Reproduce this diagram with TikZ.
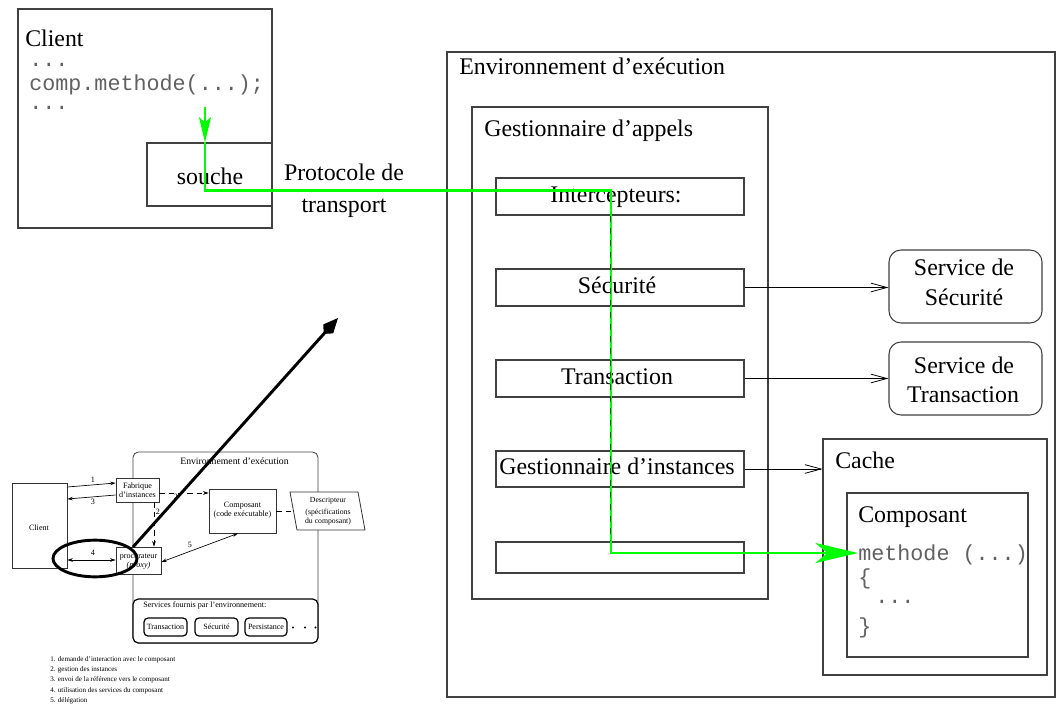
\documentclass[tikz,border=0pt]{standalone}
\usepackage{fontspec}
\setmainfont{Liberation Serif}
\setmonofont{Liberation Mono}
\usetikzlibrary{arrows.meta,fit,shapes.geometric}
\definecolor{greenline}{RGB}{0,255,0}
\definecolor{dkgreen}{RGB}{0,95,0}
\begin{document}
\begin{tikzpicture}[x=0.75pt,y=-0.75pt,
  box/.style={draw=black!75, line width=0.8pt, inner sep=0pt, fill=white},
  big/.style={font=\fontsize{17.9}{21}\selectfont, inner sep=0pt},
  mono/.style={font=\fontsize{16.3}{19}\selectfont\ttfamily, text=black!62, inner sep=0pt},
  svc/.style={box, rounded corners=9pt},
  openarr/.style={draw=black, line width=0.6pt, -{Straight Barb[length=12pt,width=6.5pt]}},
  gline/.style={draw=greenline, line width=1.6pt},
  sbox/.style={draw=black!80, line width=0.6pt, inner sep=0pt, fill=white},
  sfont/.style={font=\fontsize{6.1}{6.8}\selectfont, inner sep=0pt, align=center},
  lfont/.style={font=\fontsize{5.3}{6}\selectfont, inner sep=0pt, anchor=base west},
  sarr/.style={draw=black, line width=0.5pt, -{Stealth[length=4pt,width=2.6pt]}},
  sdarr/.style={draw=black, line width=0.5pt, {Stealth[length=4pt,width=2.6pt]}-{Stealth[length=4pt,width=2.6pt]}},
  sdash/.style={draw=black, line width=0.5pt, dash pattern=on 4pt off 3pt},
  pill/.style={draw=black, line width=0.9pt, rounded corners=3pt, inner sep=0pt, fill=white, font=\fontsize{6}{7}\selectfont}
]
\useasboundingbox (0,0) rectangle (1057,706);

% ---------- Client ----------
\node[box, fit={(18,9)(272,228)}] (client) {};
\node[big, anchor=base west] (clientlbl) at (25,47) {Client};
\node[mono, anchor=base west] (cl1) at (29,67) {...};
\node[mono, anchor=base west] (cl2) at (29,91) {comp.methode(...);};
\node[mono, anchor=base west] (cl3) at (29,110) {...};
\node[box, fit={(147,143)(272,206)}] (souche) {};
\node[big, anchor=base] (souchelbl) at (210,185) {souche};

\node[big] (proto1) at (344,172) {Protocole de};
\node[big] (proto2) at (344,208) {transport};

% ---------- Environnement ----------
\node[box, fit={(447,52)(1055,697)}] (env) {};
\node[big, anchor=base west] (envlbl) at (459,75) {Environnement d’exécution};
\node[box, fit={(472,107)(768,599)}] (gest) {};
\node[big, anchor=base west] (gestlbl) at (484,137) {Gestionnaire d’appels};

\node[box, fit={(496,178)(744,215)}] (icpt) {};
\node[big, anchor=base] at (616,203) {Intercepteurs:};
\node[box, fit={(496,269)(744,306)}] (secu) {};
\node[big, anchor=base] at (617,293) {Sécurité};
\node[box, fit={(496,360)(744,397)}] (trans) {};
\node[big, anchor=base] at (617,384) {Transaction};
\node[box, fit={(496,451)(744,487)}] (ginst) {};
\node[big, anchor=base] at (617,474) {Gestionnaire d’instances};
\node[box, fit={(496,542)(744,573)}] (last) {};

% services
\node[svc, fit={(889,250)(1042,323)}] (ssecu) {};
\node[big, anchor=base] at (964,276) {Service de};
\node[big, anchor=base] at (964,305) {Sécurité};
\node[svc, fit={(889,342)(1042,415)}] (strans) {};
\node[big, anchor=base] at (964,373) {Service de};
\node[big, anchor=base] at (963,402) {Transaction};

% cache
\node[box, fit={(823,439)(1047,675)}] (cache) {};
\node[big, anchor=base west] at (835,468) {Cache};
\node[box, fit={(847,493)(1028,657)}] (comp) {};
\node[big, anchor=base west] at (858,522) {Composant};
\node[mono, anchor=base west] (mth) at (858,560) {methode (...)};
\node[mono, anchor=base west] at (858,584) {\{};
\node[mono, anchor=base west] at (875,603) {...};
\node[mono, anchor=base west] at (858,633) {\}};

\draw[openarr] (secu.east) -- (secu.east -| ssecu.west);
\draw[openarr] (trans.east) -- (trans.east -| strans.west);
\draw[openarr] (ginst.east) -- (ginst.east -| cache.west);

% ---------- green path ----------
\coordinate (gstart) at (205,107);
\coordinate (g1) at (205,190.5);
\coordinate (g2) at (611,190.5);
\coordinate (g3) at (611,553);
\draw[gline, -{Stealth[length=19pt,width=9pt,inset=4pt]}] (gstart) -- (souche.north -| gstart);
\draw[gline, -{Stealth[length=32pt,width=15pt,inset=9pt]}] (souche.north -| gstart) -- (g1) -- (g2) -- (g3) -- (g3 -| mth.west);
\draw[dkgreen, line width=0.7pt, dash pattern=on 5pt off 4pt] ([xshift=-0.4pt]icpt.south -| g2) -- ([xshift=-0.4pt]last.north -| g2);

% ---------- small embedded diagram ----------
\node[draw=black!75, line width=0.6pt, rounded corners=4pt, inner sep=0pt, fit={(133,452)(318,643)}] (senv) {};
\node[sfont, font=\fontsize{7.3}{8}\selectfont] at (234.5,461) {Environnement d’exécution};

\node[sbox, fit={(12,483)(67,568)}] (sclient) {};
\node[sfont] at (39,528) {Client};
\node[sbox, fit={(116,478)(159,502)}] (fab) {};
\node[sfont] at (137.5,490.5) {Fabrique\\d’instances};
\node[sbox, fit={(116,547)(161,574)}] (proc) {};
\node[sfont] at (138.5,561.5) {procurateur\\\textit{(proxy)}};
\node[sbox, fit={(209,489)(276,533)}] (scomp) {};
\node[sfont] at (242.5,510) {Composant\\(code exécutable)};

\draw[sbox] (290,492) -- (358,492) -- (365,530) -- (297,530) -- cycle;
\coordinate (desl) at (293.5,511);
\node[sfont, font=\fontsize{5.8}{6.5}\selectfont] (desc) at (328,511) {Descripteur\\[3pt](spécifications\\du composant)};

\node[draw=black, line width=0.9pt, rounded corners=4pt, inner sep=0pt, fill=white, fit={(133,599)(318,643)}] (sserv) {};
\node[sfont, anchor=west] at (143,605) {Services fournis par l’environnement:};
\node[pill, fit={(144,618)(187,636)}] (p1) {};
\node[font=\fontsize{6}{7}\selectfont] at (p1.center) {Transaction};
\node[pill, fit={(195,618)(238,636)}] (p2) {};
\node[font=\fontsize{6}{7}\selectfont] at (p2.center) {Sécurité};
\node[pill, fit={(245,618)(287,636)}] (p3) {};
\node[font=\fontsize{6}{7}\selectfont] at (p3.center) {Persistance};
\fill (293,627.5) circle (1.1);
\fill (305,627.5) circle (1.1);
\fill (315.5,627.5) circle (1.1);

% small arrows
\draw[sarr] (sclient.east |- 0,487) -- (fab.west |- 0,483);
\node[sfont] at (93,480) {1};
\draw[sarr] (fab.west |- 0,495) -- (sclient.east |- 0,499);
\node[sfont] at (93,502) {3};
\draw[sdarr] (sclient.east |- 0,560) -- (proc.west |- 0,560);
\node[sfont] at (93,553) {4};
\draw[sdash, -{Stealth[length=4pt,width=2.6pt]}] (fab.south -| 154,0) -- (proc.north -| 154,0);
\node[sfont] at (158,512) {2};
\draw[sdash, -{Stealth[length=4pt,width=2.6pt]}] (fab.east |- 0,493) -- (scomp.west |- 0,493);
\node[sfont] at (176,497) {2};
\draw[sdarr] (proc.east |- 0,562) -- (scomp.south -| 238,0);
\node[sfont] at (190,545) {5};
\draw[sdash] (scomp.east) -- (desl);

% legend
\node[lfont] at (50,661) {1. demande d’interaction avec le composant};
\node[lfont] at (50,671) {2. gestion des instances};
\node[lfont] at (50,681) {3. envoi de la référence vers le composant};
\node[lfont] at (50,692) {4. utilisation des services du composant};
\node[lfont] at (50,702) {5. délégation};

% ellipse and big arrow
\node[draw=black, line width=2.2pt, ellipse, inner sep=0pt, minimum width=63pt, minimum height=27.5pt] (ell) at (95,558.5) {};
\coordinate (bigstart) at (133,547);
\coordinate (bigend) at (338,318);
\draw[line width=2.2pt, -{Kite[length=16pt,width=10pt,inset=5pt]}] (bigstart) -- (bigend);
\end{tikzpicture}
\end{document}
